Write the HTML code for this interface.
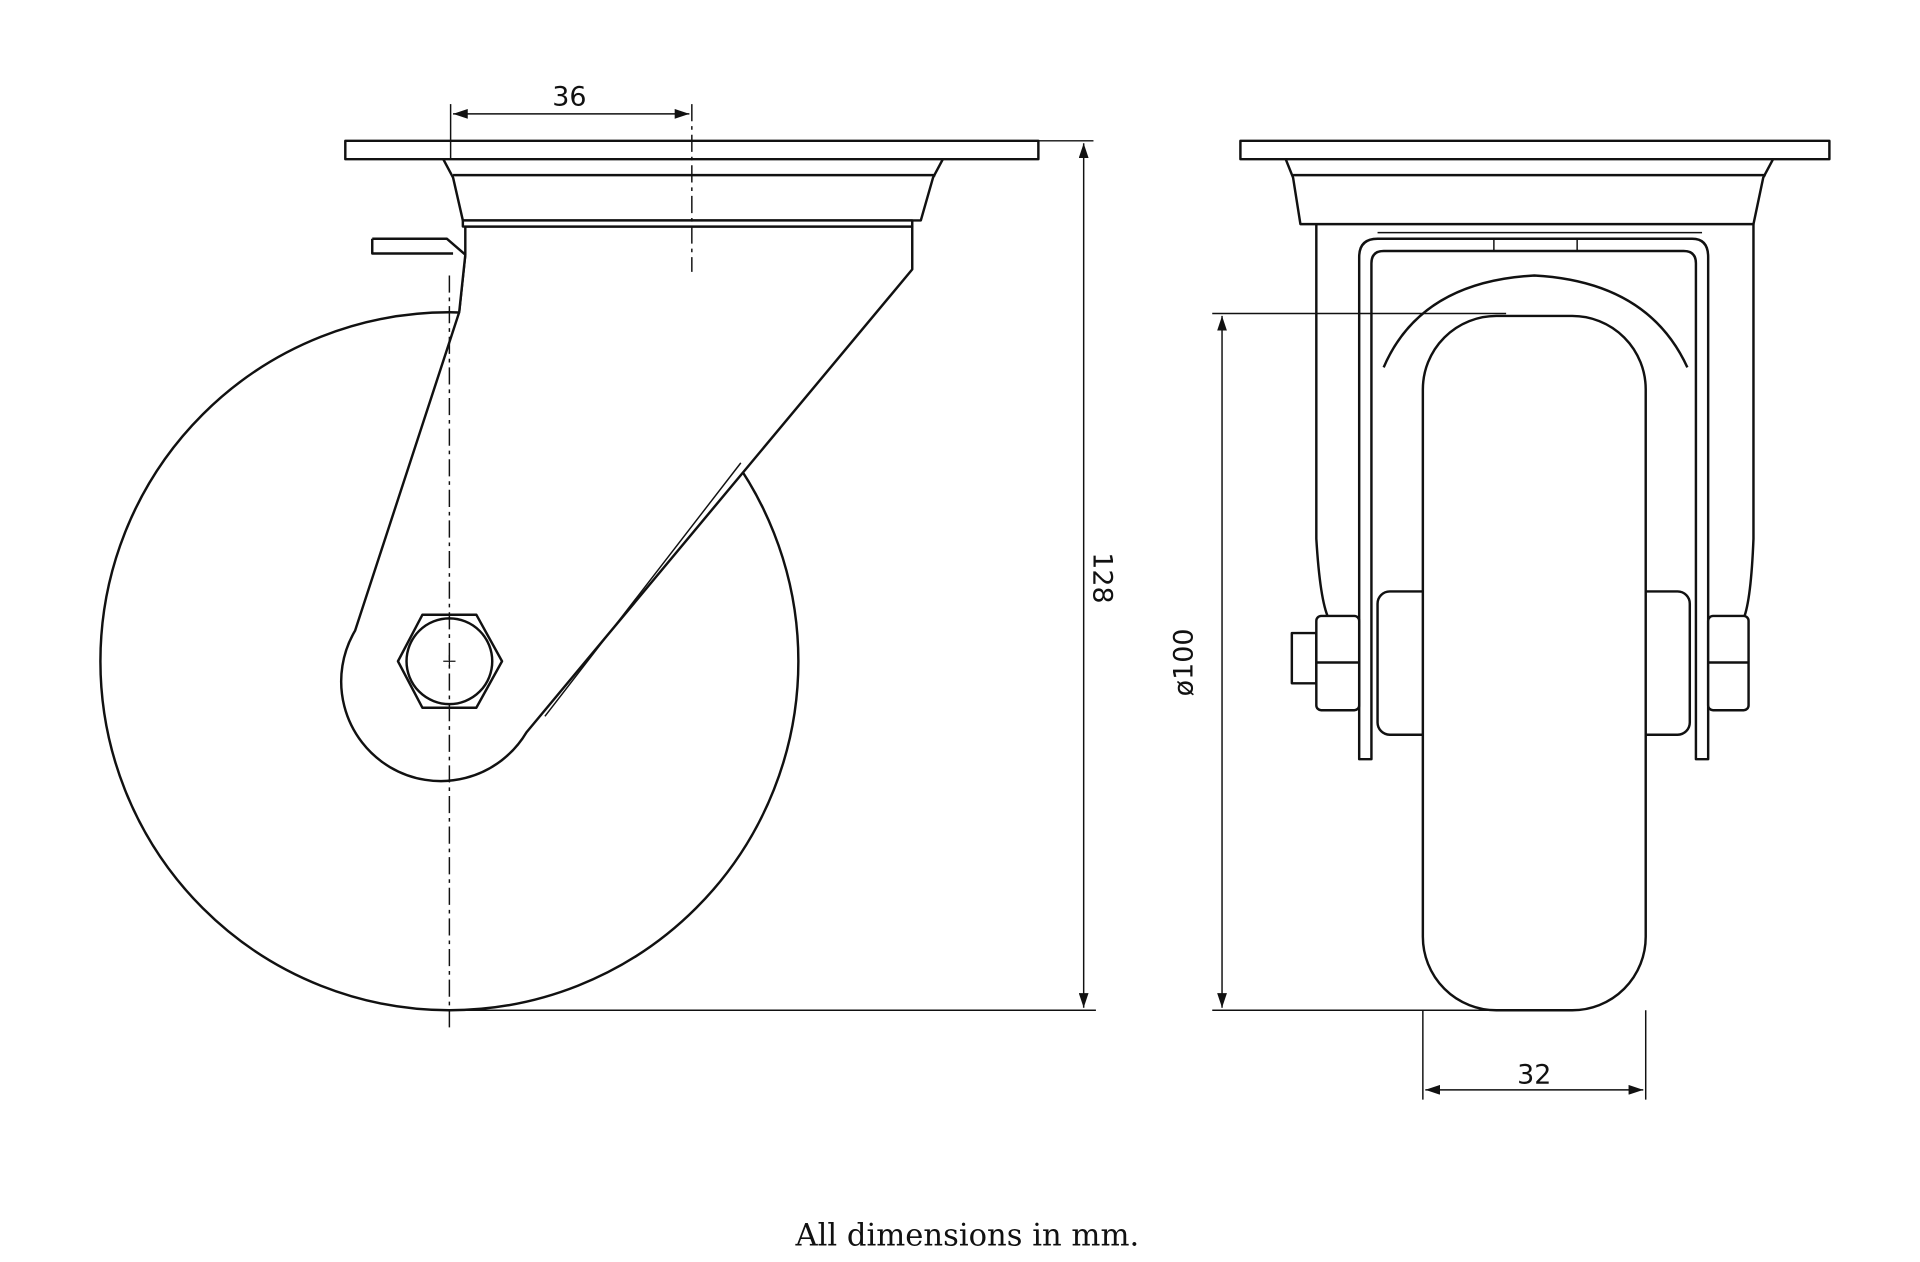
<!DOCTYPE html>
<html><head><meta charset="utf-8"><style>
html,body{margin:0;padding:0;background:#fff;width:1920px;height:1262px;overflow:hidden}
svg{display:block}
text{font-family:"DejaVu Sans","Liberation Sans",sans-serif;fill:#111}
</style></head><body>
<svg width="1920" height="1262" viewBox="0 0 1568 1030.6" preserveAspectRatio="none">
<defs>
<marker id="a" markerWidth="12" markerHeight="8" refX="12" refY="4" orient="auto-start-reverse" markerUnits="userSpaceOnUse">
<path d="M0,0 L12,4 L0,8 Z" fill="#111"/></marker>
</defs>
<g fill="none" stroke="#111" stroke-width="2" stroke-linejoin="round">
<circle cx="367" cy="540" r="285"/>
<path d="M380,185 L745,185 L745,220 L430,598 A80,80 0 0 1 290,515 L375,255 L380,208 Z" fill="#fff"/>
<path d="M605,378 L445,585" stroke-width="1.2"/>
<path d="M304,195 L365,195 L380,208 L375,255 M304,195 L304,207 L370,207" fill="#fff"/>
<rect x="282" y="115" width="566" height="15" fill="#fff"/>
<path d="M362,130 L370,145 L378,180 L752,180 L762,145 L770,130 Z" fill="#fff"/>
<line x1="370" y1="143" x2="764" y2="143"/>
<rect x="378" y="180" width="367" height="5" fill="#fff"/>
<polygon points="325,540 345,502 389,502 410,540 389,578 345,578" fill="#fff"/>
<circle cx="367" cy="540" r="35"/>
<line x1="362" y1="540" x2="372" y2="540" stroke-width="1"/><line x1="367" y1="535" x2="367" y2="545" stroke-width="1"/>
</g>
<g stroke="#111" stroke-width="1.2" fill="none">
<line x1="367" y1="225" x2="367" y2="840" stroke-dasharray="14,4,3,4"/>
<line x1="565" y1="85" x2="565" y2="222" stroke-dasharray="14,4,3,4"/>
<line x1="368" y1="85" x2="368" y2="130"/>
<line x1="370" y1="93" x2="563" y2="93" marker-start="url(#a)" marker-end="url(#a)"/>
<line x1="848" y1="115" x2="893" y2="115"/>
<line x1="367" y1="825" x2="895" y2="825"/>
<line x1="885" y1="117" x2="885" y2="823" marker-start="url(#a)" marker-end="url(#a)"/>
</g>
<text x="465" y="86" font-size="22" text-anchor="middle">36</text>
<text transform="translate(893,472) rotate(90)" font-size="22" text-anchor="middle">128</text>

<g fill="none" stroke="#111" stroke-width="2" stroke-linejoin="round">
<rect x="1013" y="115" width="481" height="15"/>
<path d="M1050,130 L1056,145 L1062,183 L1432,183 L1440,145 L1448,130"/>
<line x1="1056" y1="143" x2="1442" y2="143"/>
<path d="M1075,183 L1075,440 Q1078,490 1085,505 M1432,183 L1432,440 Q1430,490 1424,505"/>
<path d="M1110,620 L1110,210 Q1110,195 1125,195 L1382,195 Q1395,195 1395,210 L1395,620 L1385,620 L1385,215 Q1385,205 1375,205 L1130,205 Q1120,205 1120,215 L1120,620 Z"/>
<line x1="1125" y1="190" x2="1390" y2="190" stroke-width="1.2"/>
<line x1="1220" y1="195" x2="1220" y2="205" stroke-width="1.2"/><line x1="1288" y1="195" x2="1288" y2="205" stroke-width="1.2"/>
<path d="M1130,300 Q1160,230 1253,225 Q1346,230 1378,300"/>
<rect x="1125" y="483" width="255" height="117" rx="10" fill="#fff"/>
<rect x="1162" y="258" width="182" height="567" rx="60" fill="#fff"/>
<rect x="1055" y="517" width="20" height="41" fill="#fff"/>
<rect x="1075" y="503" width="35" height="77" rx="4" fill="#fff"/>
<line x1="1075" y1="541" x2="1110" y2="541"/>
<rect x="1395" y="503" width="33" height="77" rx="4" fill="#fff"/>
<line x1="1395" y1="541" x2="1428" y2="541"/>
</g>
<g stroke="#111" stroke-width="1.2" fill="none">
<line x1="990" y1="256" x2="1230" y2="256"/>
<line x1="990" y1="825" x2="1240" y2="825"/>
<line x1="998" y1="258" x2="998" y2="823" marker-start="url(#a)" marker-end="url(#a)"/>
<line x1="1162" y1="825" x2="1162" y2="898"/>
<line x1="1344" y1="825" x2="1344" y2="898"/>
<line x1="1164" y1="890" x2="1342" y2="890" marker-start="url(#a)" marker-end="url(#a)"/>
</g>
<text transform="translate(974,541) rotate(-90)" font-size="22" text-anchor="middle">ø100</text>
<text x="1253" y="885" font-size="22" text-anchor="middle">32</text>

<text x="790" y="1017" font-size="25" text-anchor="middle" style="font-family:'DejaVu Serif','Liberation Serif',serif">All dimensions in mm.</text>
</svg>
</body></html>
